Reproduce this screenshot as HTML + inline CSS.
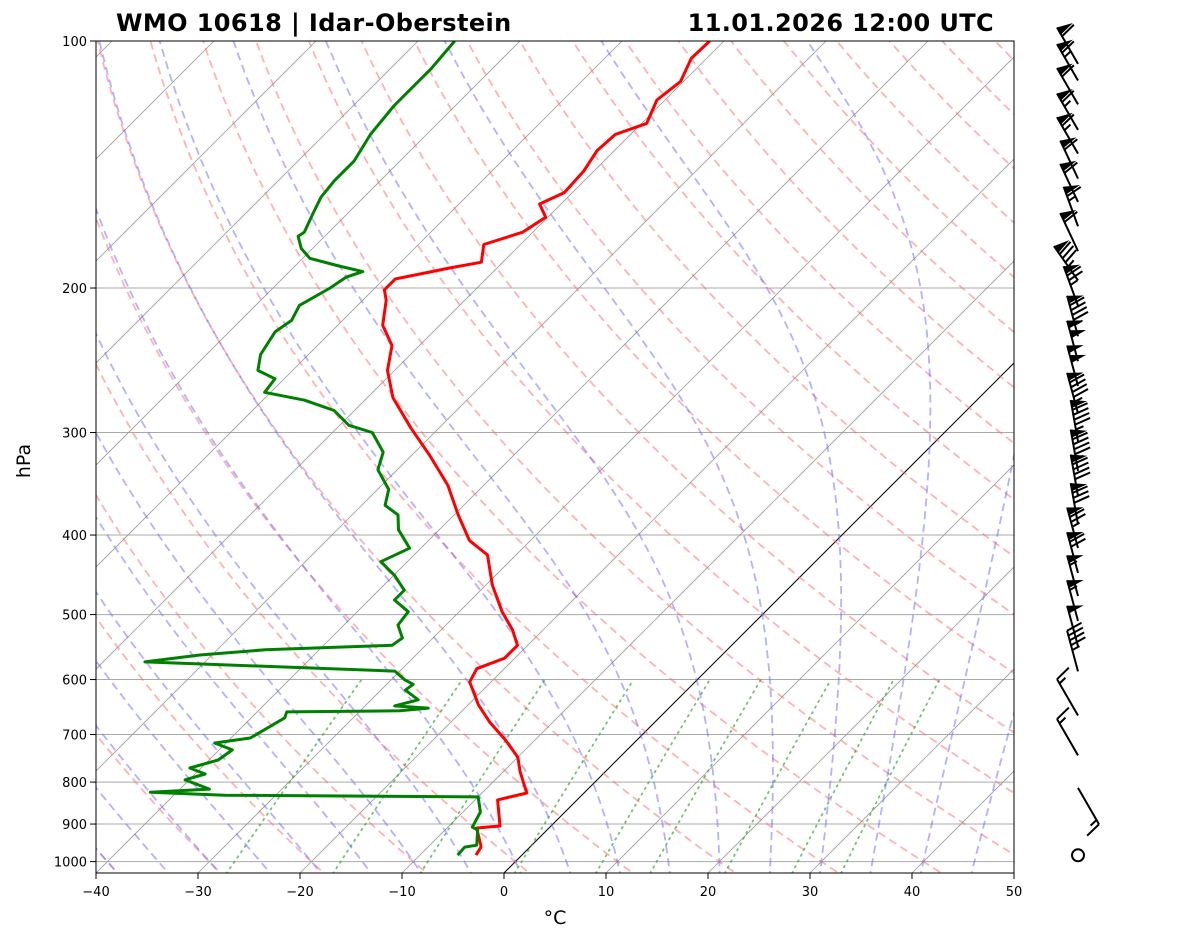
<!DOCTYPE html>
<html><head><meta charset="utf-8"><style>
body{margin:0;background:#fff}
svg{display:block;font-family:"DejaVu Sans","Liberation Sans",sans-serif}
</style></head><body>
<svg id="chart" width="1181" height="941" viewBox="0 0 1181 941">
<defs><clipPath id="plotclip"><rect x="96" y="41" width="918" height="832"/></clipPath></defs>
<rect x="0" y="0" width="1181" height="941" fill="#fff"/>
<g id="bg" clip-path="url(#plotclip)"></g>
<g id="prof" clip-path="url(#plotclip)"></g>
<rect x="96" y="41" width="918" height="832" fill="none" stroke="#000" stroke-width="1"/>
<g id="axes"></g>
<g id="barbs"></g>
<text x="116" y="31" font-size="24" font-weight="bold" letter-spacing="0.4">WMO 10618 | Idar-Oberstein</text>
<text x="994" y="31" font-size="24" font-weight="bold" letter-spacing="0.4" text-anchor="end">11.01.2026 12:00 UTC</text>
<text x="555" y="924" font-size="19" text-anchor="middle">°C</text>
<text x="30" y="461" font-size="19" text-anchor="middle" transform="rotate(-90 30 461)">hPa</text>
</svg>
<script>
const tempP=[982,960,955,910,905,841,825,778,746,711,676,644,604,582,565,545,522,496,460,423,406,378,348,320,296,272,252,235,222,207,201,195,189,186,177,171,164,158,153,144,136,130,126,118,112,105,100];
const tempT=[-4.5,-4.8,-5.0,-7.1,-5.0,-7.8,-5.6,-8.3,-10.0,-12.9,-16.2,-19.0,-22.1,-22.7,-21.0,-21.0,-23.0,-25.8,-29.4,-32.8,-36.0,-39.6,-43.5,-48.2,-52.8,-57.5,-60.7,-62.7,-65.6,-67.7,-68.9,-68.9,-64.6,-62.1,-63.6,-61.0,-60.2,-62.1,-60.8,-61.0,-61.7,-61.5,-59.5,-60.8,-60.3,-61.5,-61.4];
const dewP=[982,960,955,915,908,870,834,830,823,816,795,782,769,752,731,717,707,668,657,655,650,646,635,618,608,601,586,571,560,552,545,534,515,496,480,467,448,431,415,394,378,368,352,333,317,300,294,282,274,268,258,252,241,226,219,210,200,194,191,188,184,179,173,171,163,155,148,140,130,120,113,108,100];
const dewT=[-6.3,-6.4,-5.4,-6.8,-7.6,-8.3,-10.0,-35.0,-42.6,-37.1,-40.4,-39.0,-41.1,-39.1,-38.7,-41.1,-38.1,-36.7,-37.1,-26.1,-23.6,-27.1,-25.4,-27.6,-27.4,-28.6,-30.5,-55.9,-51.2,-45.3,-33.3,-33.0,-34.7,-35.0,-37.5,-37.5,-39.9,-42.6,-41.1,-44.0,-45.5,-47.7,-48.9,-51.9,-53.1,-56.1,-59.1,-62.0,-65.9,-70.6,-70.9,-73.4,-74.7,-75.5,-75.0,-75.7,-74.4,-73.9,-72.8,-75.7,-79.3,-81.1,-82.6,-82.4,-83.3,-84.2,-84.5,-84.5,-85.5,-86.0,-86.0,-86.0,-86.4];
const windP=[96.4,101,108,116,124,133,142,152,163,177,190,207,222,238,257,278,302,324,351,375,402,429,460,494,530,600,671,735,888];
const windSpd=[60,65,60,65,65,60,60,65,60,85,75,95,100,100,95,95,95,90,80,75,70,55,55,50,45,15,15,15,0];
const windDir=[330,330,330,330,330,335,335,340,335,325,340,345,345,345,345,350,350,350,350,345,345,345,345,345,345,330,330,150,0];
const xTicks=[-40,-30,-20,-10,0,10,20,30,40,50];
const yTicks=[100,200,300,400,500,600,700,800,900,1000];

const NS='http://www.w3.org/2000/svg';
function yP(p){return 41+820.6*Math.log10(p/100);}
function xT(T,p){return 96+(T+40)*10.2+(873-yP(p));}
function mk(tag,attrs,parent){const e=document.createElementNS(NS,tag);for(const k in attrs)e.setAttribute(k,attrs[k]);parent.appendChild(e);return e;}
function pathFrom(ps,ts){let d='';for(let i=0;i<ps.length;i++){d+=(i?'L':'M')+xT(ts[i],ps[i]).toFixed(1)+' '+yP(ps[i]).toFixed(1);}return d;}
const bg=document.getElementById('bg'),prof=document.getElementById('prof'),axes=document.getElementById('axes'),barbs=document.getElementById('barbs');
const pLevels=[];for(let p=1050;p>=99;p-=5)pLevels.push(p);

yTicks.forEach(p=>{const l=mk('line',{x1:96,x2:1014,y1:yP(p),y2:yP(p),stroke:'#aaa','stroke-width':1},bg);

});
for(let t=-130;t<=50;t+=10){const l=mk('path',{d:pathFrom([1100,90],[t,t]),stroke:t===0?'#000':'#999','stroke-width':t===0?1:0.8,fill:'none'},bg);

}
for(let t0=-50;t0<=200;t0+=10){const th=t0+273.15;const ts=pLevels.map(p=>th*Math.pow(p/1000,0.286)-273.15);
const l=mk('path',{d:pathFrom(pLevels,ts),stroke:'#ff6666','stroke-opacity':0.5,'stroke-width':1.8,'stroke-dasharray':'8,5',fill:'none'},bg);

}
function dTdp(T,p){const Rd=287.04,Cp=1005.7,Lv=2.501e6,eps=0.622;const Tc=T-273.15;const es=6.112*Math.exp(17.67*Tc/(Tc+243.5));const rs=eps*es/(p-es);
return (Rd*T+Lv*rs)/(p*(Cp+Lv*Lv*rs*eps/(Rd*T*T)));}
for(let t0=-50;t0<=45;t0+=5){const ps=[],ts=[];let T=t0+273.15;
let Td=T;for(let p=1000;p<1050;p+=1){Td+=dTdp(Td,p);} ps.push(1050);ts.push(Td-273.15);
let Tu=T;ps.push(1000);ts.push(Tu-273.15);for(let p=1000;p>100;p-=1){Tu-=dTdp(Tu,p);if((p-1)%10===0){ps.push(p-1);ts.push(Tu-273.15);}}
const l=mk('path',{d:pathFrom(ps,ts),stroke:'#6666ff','stroke-opacity':0.5,'stroke-width':1.8,'stroke-dasharray':'8,5',fill:'none'},bg);

}
[0.0004,0.001,0.002,0.004,0.007,0.01,0.016,0.024,0.032].forEach(w=>{const ps=[],ts=[];for(let p=1050;p>=600;p-=10){const e=p*w/(0.622+w);const a=Math.log(e/6.112);ps.push(p);ts.push(243.5*a/(17.67-a));}
const l=mk('path',{d:pathFrom(ps,ts),stroke:'#33aa33','stroke-opacity':0.7,'stroke-width':1.8,'stroke-dasharray':'1.5,5','stroke-linecap':'round',fill:'none'},bg);

});
const tl=mk('path',{d:pathFrom(tempP,tempT),stroke:'#ff0000','stroke-width':3,fill:'none','stroke-linejoin':'round'},prof);


const dl=mk('path',{d:pathFrom(dewP,dewT),stroke:'#008000','stroke-width':3,fill:'none','stroke-linejoin':'round'},prof);


xTicks.forEach(t=>{const x=96+(t+40)*10.2;mk('line',{x1:x,x2:x,y1:873,y2:879,stroke:'#000'},axes);
const tx=mk('text',{x:x,y:896,'font-size':13,'text-anchor':'middle'},axes);tx.textContent=(t<0?'\u2212'+(-t):t);

});
yTicks.forEach(p=>{const y=yP(p);mk('line',{x1:90,x2:96,y1:y,y2:y,stroke:'#000'},axes);
const tx=mk('text',{x:87,y:y+5,'font-size':13,'text-anchor':'end'},axes);tx.textContent=p;

});
windP.forEach((p,i)=>{const g=mk('g',{},barbs);


const bx=1078,by=yP(p)+36,spd=Math.round(windSpd[i]/5)*5;
if(spd<3){mk('circle',{cx:bx,cy:by,r:6,fill:'none',stroke:'#000','stroke-width':2},g);return;}
const d=windDir[i]*Math.PI/180,vx=Math.sin(d),vy=-Math.cos(d),px=-vy,py=vx,L=42;
const tx=bx+vx*L,ty=by+vy*L;
mk('line',{x1:bx,y1:by,x2:tx,y2:ty,stroke:'#000','stroke-width':2},g);
let s=spd,pos=0;const fl=16,fw=8,sp=5;
while(s>=50){const a=[tx-vx*pos,ty-vy*pos],b=[tx-vx*(pos+fw),ty-vy*(pos+fw)],c=[a[0]+px*fl-vx*fw/2,a[1]+py*fl-vy*fw/2];
mk('polygon',{points:a.join(',')+' '+c.join(',')+' '+b.join(','),fill:'#000'},g);pos+=fw+2;s-=50;}
while(s>=10){const a=[tx-vx*pos,ty-vy*pos];mk('line',{x1:a[0],y1:a[1],x2:a[0]+px*fl+vx*4,y2:a[1]+py*fl+vy*4,stroke:'#000','stroke-width':2},g);pos+=sp;s-=10;}
if(s>=5){if(pos===0)pos=sp;const a=[tx-vx*pos,ty-vy*pos];mk('line',{x1:a[0],y1:a[1],x2:a[0]+px*fl/2+vx*2,y2:a[1]+py*fl/2+vy*2,stroke:'#000','stroke-width':2},g);}
});
</script>
</body></html>
